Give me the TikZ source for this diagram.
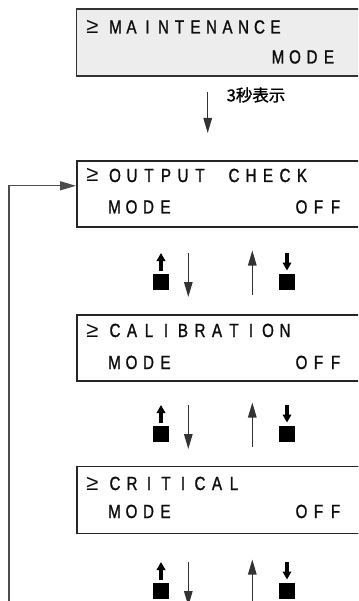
\documentclass[tikz,border=0pt]{standalone}
\usepackage{fontspec}
\setmainfont{Liberation Sans}
\newfontfamily\lcdfont[FakeStretch=0.8,FakeBold=1.2]{Liberation Sans}
\newfontfamily\symfont{Liberation Sans}
\newfontfamily\cjk[FakeBold=1.2]{Noto Sans CJK JP}
\usetikzlibrary{arrows.meta}
\tikzset{
  lcd/.style={font=\lcdfont\fontsize{19}{21}\selectfont, inner sep=0pt, anchor=base, text=black!95},
  gesign/.style={font=\symfont\fontsize{22}{24}\selectfont, inner sep=0pt, anchor=base, text=black!95},
  lcdbox/.style={draw=black!85, line width=1.6pt, anchor=north west, minimum width=300pt, inner sep=0pt},
  topbox/.style={lcdbox, fill=black!7, draw=black!80},
  longarrow/.style={draw=black!80, line width=1.2pt, -{Triangle[length=15pt,width=8.5pt]}},
  keyarrow/.style={draw=black, line width=4.2pt, -{Triangle[length=8pt,width=8.5pt]}},
  keysq/.style={fill=black, draw=none},
  fbline/.style={draw=black!70, line width=1.3pt, -{Triangle[length=16pt,width=9pt]}},
  lbl/.style={font=\cjk\fontsize{16.5}{18}\selectfont, inner sep=0pt, text=black}
}
\newcommand\lcdrow[5]{% prefix, x0, pitch, baseline, list
  \foreach \c [count=\i] in {#5} {\node[lcd] (#1-\i) at ({#2+#3*(\i-1)},#4) {\c};}}
\newcommand\keygroup[2]{% prefix, top y
  \fill[keysq] (153,#2+21) rectangle (169,#2+37);
  \coordinate (#1-ka) at (161,#2+18);
  \coordinate (#1-kb) at (161,#2);
  \draw[keyarrow] (#1-ka) -- (#1-kb);
  \coordinate (#1-da) at (188.3,#2);
  \coordinate (#1-db) at (188.3,#2+44);
  \draw[longarrow] (#1-da) -- (#1-db);
  \coordinate (#1-ua) at (252.3,#2+42);
  \coordinate (#1-ub) at (252.3,#2-2.5);
  \draw[longarrow] (#1-ua) -- (#1-ub);
  \fill[keysq] (279.3,#2+21) rectangle (295.3,#2+37);
  \coordinate (#1-ra) at (287,#2);
  \coordinate (#1-rb) at (287,#2+17.5);
  \draw[keyarrow] (#1-ra) -- (#1-rb);
}
\begin{document}
\begin{tikzpicture}[x=1pt,y=-1pt]
\useasboundingbox (0,0) rectangle (358,601);
\clip (0,0) rectangle (358,601);

% top box
\node[topbox, minimum height=67pt] (mm) at (75.5,8) {};
\node[gesign] (mm-s) at (92.5,33.5) {≥};
\lcdrow{mm1}{115.5}{16}{33.5}{M,A,I,N,T,E,N,A,N,C,E}
\lcdrow{mm2}{278}{17}{63.5}{M,O,D,E}

% 3 s arrow
\coordinate (t1) at (207.7,92);
\coordinate (t2) at (207.7,133);
\draw[longarrow] (t1) -- (t2);
\node[lbl, anchor=west] (t3) at (226.5,95) {3秒表示};

% output check
\node[lcdbox, minimum height=66pt] (oc) at (76,160) {};
\node[gesign] (oc-s) at (92.5,182) {≥};
\lcdrow{oc1}{115}{17}{182}{O,U,T,P,U,T,{},C,H,E,C,K}
\lcdrow{oc2}{114.5}{17}{213.5}{M,O,D,E,{},{},{},{},{},{},{},O,F,F}

\keygroup{g1}{253}

% calibration
\node[lcdbox, minimum height=66pt] (cb) at (76,314) {};
\node[gesign] (cb-s) at (92.5,337) {≥};
\lcdrow{cb1}{115}{17}{337}{C,A,L,I,B,R,A,T,I,O,N}
\lcdrow{cb2}{114.5}{17}{369}{M,O,D,E,{},{},{},{},{},{},{},O,F,F}

\keygroup{g2}{405}

% critical
\node[lcdbox, minimum height=67pt] (cr) at (76,465.5) {};
\node[gesign] (cr-s) at (92.5,490) {≥};
\lcdrow{cr1}{115}{17}{490}{C,R,I,T,I,C,A,L}
\lcdrow{cr2}{114.5}{17}{518}{M,O,D,E,{},{},{},{},{},{},{},O,F,F}

\keygroup{g3}{562}

% feedback loop
\coordinate (fb) at (9,610);
\draw[fbline] (fb) |- ([yshift=8pt]oc.west);
\end{tikzpicture}
\end{document}
